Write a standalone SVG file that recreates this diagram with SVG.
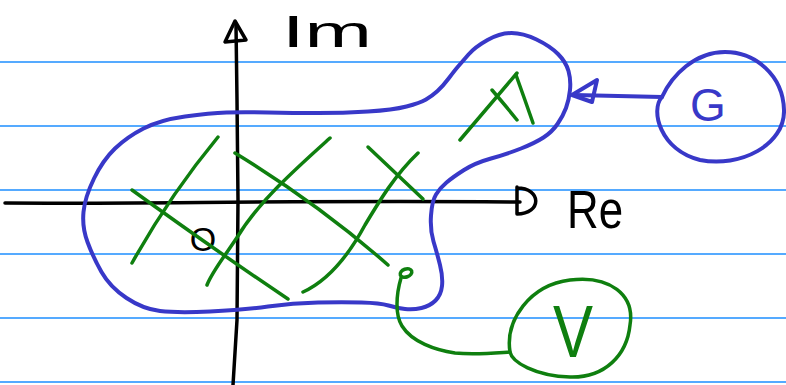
<svg xmlns="http://www.w3.org/2000/svg" width="786" height="385" viewBox="0 0 786 385">
<style>
.rule{stroke:#55aaff;stroke-width:2;fill:none}
.ax{stroke:#000;stroke-width:3.5;fill:none;stroke-linecap:round;stroke-linejoin:round}
.bl{stroke:#3838c8;stroke-width:4;fill:none;stroke-linecap:round;stroke-linejoin:round}
.gr{stroke:#0f7f0f;stroke-width:3.5;fill:none;stroke-linecap:round;stroke-linejoin:round}
.tk{font-family:"Liberation Sans","DejaVu Sans",sans-serif;fill:#000}
.tb{font-family:"Liberation Sans","DejaVu Sans",sans-serif;fill:#3838c8}
.tg{font-family:"Liberation Sans","DejaVu Sans",sans-serif;fill:#0f7f0f}
</style>
<rect width="786" height="385" fill="#fff"/>
<g id="rules">
<line class="rule" x1="0" y1="62" x2="786" y2="62"/>
<line class="rule" x1="0" y1="126" x2="786" y2="126"/>
<line class="rule" x1="0" y1="190" x2="786" y2="190"/>
<line class="rule" x1="0" y1="254" x2="786" y2="254"/>
<line class="rule" x1="0" y1="318" x2="786" y2="318"/>
<line class="rule" x1="0" y1="382" x2="786" y2="382"/>
</g>
<g id="axes">
<path class="ax" d="M 5 203 C 150 204, 300 200, 520 202"/>
<path class="ax" d="M 517 187 L 517 214 M 517 188 C 542 188, 542 214, 517 214"/>
<path class="ax" d="M 233 385 L 237 320 L 238 200 L 237 100 L 236 25"/>
<path class="ax" d="M 235 21 L 225 42 L 246 40 Z"/>
<text class="tk" x="282" y="47" font-size="44" textLength="90" lengthAdjust="spacingAndGlyphs">Im</text>
<text class="tk" x="567" y="228" font-size="54" textLength="56" lengthAdjust="spacingAndGlyphs">Re</text>
<text class="tk" x="203" y="251" font-size="34" text-anchor="middle">O</text>
</g>
<g id="region">
<path class="bl" d="M 487.5 40 Q 500 33 511.5 33 Q 523 33 536.5 39.5 Q 550 46 558 54 Q 566 62 568.5 71 Q 571 80 570 90 Q 569 100 566 108 Q 563 116 557.5 124 Q 552 132 543.5 137.5 Q 535 143 521 148.5 Q 507 154 491 158.5 Q 475 163 464 170 Q 453 177 446.5 182.5 Q 440 188 436 194.5 Q 432 201 431 215.5 Q 430 230 433.5 241.5 Q 437 253 440 265 Q 443 277 442 286 Q 441 295 435.5 300.5 Q 430 306 421.5 308 Q 413 310 405 309 Q 397 308 388.5 305.5 Q 380 303 361.5 302.5 Q 343 302 318 302.5 Q 293 303 268 306.5 Q 243 310 210 311.5 Q 177 313 160 311 Q 143 309 126.5 298 Q 110 287 101.5 272 Q 93 257 87.5 242 Q 82 227 83.5 212 Q 85 197 94 178.5 Q 103 160 115 148.5 Q 127 137 143.5 128.5 Q 160 120 185 116.5 Q 210 113 226.5 112.5 Q 243 112 268 112.5 Q 293 113 318 113 Q 343 113 368 111.5 Q 393 110 406.5 106.5 Q 420 103 426 99.5 Q 432 96 437.5 91 Q 443 86 449 78 Q 455 70 458.5 66 Q 462 62 468.5 54.5 Q 475 47 487.5 40 Z"/>
<path class="gr" d="M 218 137 Q 170 195 132 263"/>
<path class="gr" d="M 132 190 Q 215 250 288 299"/>
<path class="gr" d="M 235 153 Q 320 205 388 265"/>
<path class="gr" d="M 330 138 C 300 165, 260 200, 238 236 C 222 260, 212 272, 207 285"/>
<path class="gr" d="M 368 147 L 423 199"/>
<path class="gr" d="M 418 153 C 395 175, 380 200, 365 225 C 345 262, 325 282, 303 292"/>
<path class="gr" d="M 460 140 L 517 73"/>
<path class="gr" d="M 492 90 Q 505 105 517 120"/>
<path class="gr" d="M 516 75 Q 525 100 533 123"/>
<ellipse class="gr" cx="406" cy="273" rx="6" ry="4" transform="rotate(-20 406 273)"/>
</g>
<g id="nodeG">
<path class="bl" d="M 662 97 C 650 110, 660 150, 700 160 C 740 168, 785 145, 784 110 C 783 75, 755 52, 725 52 C 695 52, 672 75, 662 97"/>
<text class="tb" x="708" y="121" font-size="46" text-anchor="middle">G</text>
</g>
<g id="nodeV">
<path class="gr" d="M 510 352 C 505 320, 530 285, 570 280 C 610 275, 635 295, 630 325 C 627 355, 605 378, 570 377 C 535 376, 512 362, 510 352"/>
<text class="tg" x="553" y="357" font-size="74" textLength="40" lengthAdjust="spacingAndGlyphs">V</text>
</g>
<g id="connectors">
<path class="bl" d="M 662 97 L 574 95"/>
<path class="bl" d="M 572 95 L 597 80 L 592 102 Z"/>
<path class="gr" d="M 401 278 C 396 295, 395 315, 402 326 C 412 342, 435 350, 455 353 C 475 355, 495 353, 510 352"/>
</g>
</svg>
